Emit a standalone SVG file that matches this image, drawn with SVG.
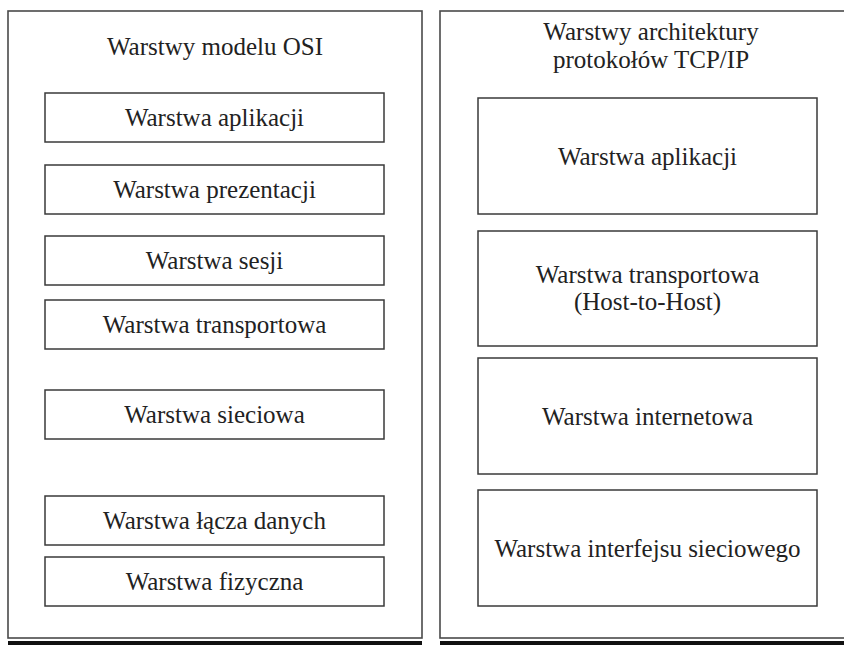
<svg xmlns="http://www.w3.org/2000/svg" width="844" height="645" viewBox="0 0 844 645">
  <style>
    .panel { fill: #ffffff; stroke: #4a4a4a; stroke-width: 1.6; }
    .layer { fill: #ffffff; stroke: #3a3a3a; stroke-width: 1.5; }
    .bar { fill: #111111; }
    text { font-family: "Liberation Serif", "Times New Roman", serif; font-size: 25px; fill: #222222; text-anchor: middle; }
  </style>
  <rect width="844" height="645" fill="#ffffff"/>

  <!-- OSI model panel -->
  <g id="osi-panel">
    <rect class="panel" x="8" y="11" width="414" height="627"/>
    <rect class="bar" x="8" y="641" width="414" height="6"/>
    <text x="215" y="55">Warstwy modelu OSI</text>
  </g>
  <g id="osi-application">
    <rect class="layer" x="45" y="93" width="339" height="49"/>
    <text x="214.5" y="126">Warstwa aplikacji</text>
  </g>
  <g id="osi-presentation">
    <rect class="layer" x="45" y="165" width="339" height="49"/>
    <text x="214.5" y="198">Warstwa prezentacji</text>
  </g>
  <g id="osi-session">
    <rect class="layer" x="45" y="236" width="339" height="49"/>
    <text x="214.5" y="269">Warstwa sesji</text>
  </g>
  <g id="osi-transport">
    <rect class="layer" x="45" y="300" width="339" height="49"/>
    <text x="214.5" y="333">Warstwa transportowa</text>
  </g>
  <g id="osi-network">
    <rect class="layer" x="45" y="390" width="339" height="49"/>
    <text x="214.5" y="423">Warstwa sieciowa</text>
  </g>
  <g id="osi-datalink">
    <rect class="layer" x="45" y="496" width="339" height="49"/>
    <text x="214.5" y="529">Warstwa łącza danych</text>
  </g>
  <g id="osi-physical">
    <rect class="layer" x="45" y="557" width="339" height="49"/>
    <text x="214.5" y="590">Warstwa fizyczna</text>
  </g>

  <!-- TCP/IP architecture panel -->
  <g id="tcpip-panel">
    <rect class="panel" x="440" y="11" width="410" height="627"/>
    <rect class="bar" x="440" y="641" width="410" height="6"/>
    <text x="651" y="40">Warstwy architektury</text>
    <text x="651" y="68">protokołów TCP/IP</text>
  </g>
  <g id="tcpip-application">
    <rect class="layer" x="478" y="98" width="339" height="116"/>
    <text x="647.5" y="164.5">Warstwa aplikacji</text>
  </g>
  <g id="tcpip-transport">
    <rect class="layer" x="478" y="231" width="339" height="115"/>
    <text x="647.5" y="282.5">Warstwa transportowa</text>
    <text x="647.5" y="309.5">(Host-to-Host)</text>
  </g>
  <g id="tcpip-internet">
    <rect class="layer" x="478" y="358" width="339" height="116"/>
    <text x="647.5" y="424.5">Warstwa internetowa</text>
  </g>
  <g id="tcpip-network-interface">
    <rect class="layer" x="478" y="490" width="339" height="116"/>
    <text x="647.5" y="556.5">Warstwa interfejsu sieciowego</text>
  </g>

  <!-- no connectors between layers -->
  <g id="connectors"/>
</svg>
